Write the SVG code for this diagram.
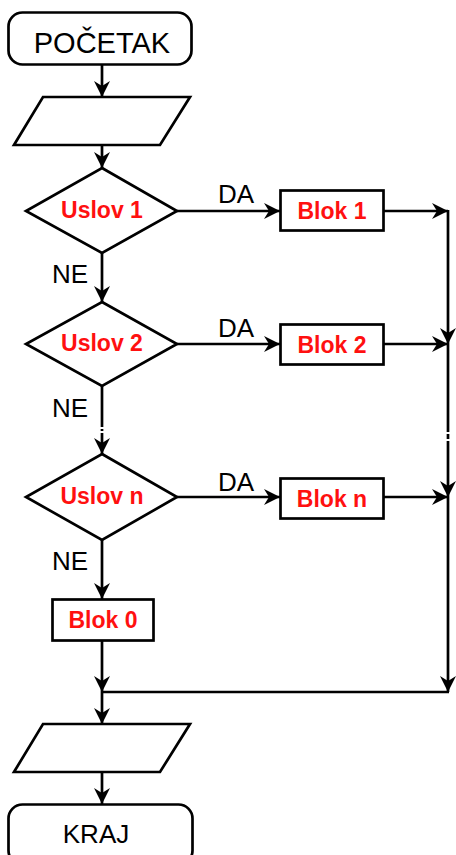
<svg xmlns="http://www.w3.org/2000/svg" width="456" height="855" viewBox="0 0 456 855">
<style>
.sh{fill:#fff;stroke:#000;stroke-width:2.7}
.ln{fill:none;stroke:#000;stroke-width:2.7}
.t{font-family:"Liberation Sans",Arial,sans-serif;fill:#000;text-anchor:middle}
.r{font-family:"Liberation Sans",Arial,sans-serif;fill:#ff1010;font-weight:bold;font-size:23px;text-anchor:middle}
.lb{font-family:"Liberation Sans",Arial,sans-serif;fill:#000;font-size:26px}
</style>
<defs>
<marker id="ah" markerUnits="userSpaceOnUse" markerWidth="20" markerHeight="20" viewBox="-18 -10 20 20" refX="0" refY="0" orient="auto">
<path d="M0,0 L-16,-8 L-11,0 L-16,8 Z" fill="#000"/>
</marker>
</defs>
<rect width="456" height="855" fill="#fff"/>
<g id="connectors">
<line class="ln" x1="102" y1="65" x2="102" y2="97" marker-end="url(#ah)"/>
<line class="ln" x1="102" y1="145" x2="102" y2="168" marker-end="url(#ah)"/>
<line class="ln" x1="102" y1="253" x2="102" y2="302" marker-end="url(#ah)"/>
<line class="ln" x1="102" y1="386" x2="102" y2="427"/>
<line class="ln" x1="102" y1="429" x2="102" y2="431"/>
<line class="ln" x1="102" y1="433" x2="102" y2="454" marker-end="url(#ah)"/>
<line class="ln" x1="102" y1="540" x2="102" y2="599" marker-end="url(#ah)"/>
<line class="ln" x1="102" y1="641" x2="102" y2="692" marker-end="url(#ah)"/>
<line class="ln" x1="102" y1="692" x2="102" y2="724" marker-end="url(#ah)"/>
<line class="ln" x1="102" y1="772" x2="102" y2="804" stroke-width="3.5" marker-end="url(#ah)"/>
<line class="ln" x1="177" y1="211" x2="280" y2="211" marker-end="url(#ah)"/>
<line class="ln" x1="177" y1="344" x2="280" y2="344" marker-end="url(#ah)"/>
<line class="ln" x1="177" y1="497" x2="280" y2="497" marker-end="url(#ah)"/>
<line class="ln" x1="384" y1="211" x2="448" y2="211" marker-end="url(#ah)"/>
<line class="ln" x1="384" y1="344" x2="448" y2="344" marker-end="url(#ah)"/>
<line class="ln" x1="384" y1="497" x2="448" y2="497" marker-end="url(#ah)"/>
<line class="ln" x1="448" y1="210" x2="448" y2="344" marker-end="url(#ah)"/>
<line class="ln" x1="448" y1="344" x2="448" y2="432"/>
<line class="ln" x1="448" y1="434" x2="448" y2="439"/>
<line class="ln" x1="448" y1="441" x2="448" y2="497" marker-end="url(#ah)"/>
<line class="ln" x1="448" y1="497" x2="448" y2="692" marker-end="url(#ah)"/>
<line class="ln" x1="449" y1="692" x2="102" y2="692"/>
<text class="lb" x="218" y="203">DA</text>
<text class="lb" x="218" y="337">DA</text>
<text class="lb" x="218" y="491">DA</text>
<text class="lb" x="52" y="283">NE</text>
<text class="lb" x="52" y="417">NE</text>
<text class="lb" x="52" y="570">NE</text>
</g>
<g id="start">
<rect class="sh" x="8.5" y="12.5" width="183" height="52" rx="14"/>
<text class="t" x="102" y="53" font-size="29">POČETAK</text>
</g>
<g id="input">
<polygon class="sh" points="43,97 190,97 160,145 14,145"/>
</g>
<g id="uslov1">
<polygon class="sh" points="102,168 177,211 102,253 26,211"/>
<text class="r" x="102" y="218">Uslov 1</text>
</g>
<g id="uslov2">
<polygon class="sh" points="102,302 177,344 102,386 26,344"/>
<text class="r" x="102" y="351">Uslov 2</text>
</g>
<g id="uslovn">
<polygon class="sh" points="102,454 177,497 102,540 26,497"/>
<text class="r" x="102" y="504">Uslov n</text>
</g>
<g id="blok1">
<rect class="sh" x="280.5" y="190.5" width="103" height="40"/>
<text class="r" x="332" y="219">Blok 1</text>
</g>
<g id="blok2">
<rect class="sh" x="280.5" y="324.5" width="103" height="40"/>
<text class="r" x="332" y="353">Blok 2</text>
</g>
<g id="blokn">
<rect class="sh" x="280.5" y="478.5" width="103" height="40"/>
<text class="r" x="332" y="507">Blok n</text>
</g>
<g id="blok0">
<rect class="sh" x="52.5" y="599.5" width="101" height="41"/>
<text class="r" x="103" y="628">Blok 0</text>
</g>
<g id="output">
<polygon class="sh" points="43,724 190,724 160,772 14,772"/>
</g>
<g id="end">
<rect class="sh" x="8.5" y="804.5" width="184" height="60" rx="14"/>
<text class="t" x="96" y="843" font-size="26">KRAJ</text>
</g>
</svg>
